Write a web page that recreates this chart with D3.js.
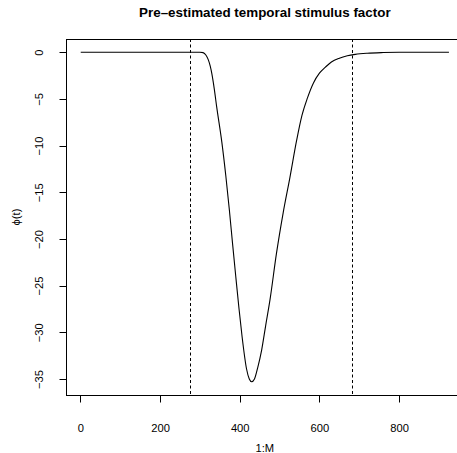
<!DOCTYPE html>
<html>
<head>
<meta charset="utf-8">
<script src="https://cdn.jsdelivr.net/npm/d3@7"></script>
<style>
  body { margin: 0; background: #fff; }
  text { font-family: "Liberation Sans", Arial, sans-serif; fill: #000; }
</style>
</head>
<body>
<svg id="chart" width="457" height="453"></svg>
<script>
// values
const tIndex = [1, 250, 300, 308, 315, 321, 326, 330, 336, 342, 355, 365, 374, 382, 390, 398, 406, 417, 424, 430,
  437, 445, 455, 465, 476, 492, 509, 526, 543, 556, 570, 585, 600, 615, 630, 650, 670, 690, 720, 760, 800, 925];
const phiValues = [0, 0, 0, -0.05, -0.3, -0.8, -1.5, -2.3, -3.9, -5.8, -9.6, -13.2, -16.9, -20.5, -24.0, -27.4, -30.5, -33.9, -35.0, -35.3,
  -35.0, -33.8, -31.9, -29.3, -26.5, -21.6, -17.2, -13.4, -9.4, -6.8, -4.9, -3.3, -2.25, -1.6, -1.05, -0.64, -0.38, -0.23, -0.11, -0.04, -0.01, 0];
const cutLines = [276, 682];
const xTicks = [0, 200, 400, 600, 800];
const yTicks = [0, -5, -10, -15, -20, -25, -30, -35];

const svg = d3.select("#chart");
const plotLeft = 66, plotTop = 39, plotBottom = 395;

// R style 4% padding on both axes
const xMin = d3.min(tIndex), xMax = d3.max(tIndex);
const xPad = (xMax - xMin) * 0.04;
const yMin = d3.min(phiValues), yMax = d3.max(phiValues);
const yPad = (yMax - yMin) * 0.04;
const pxPerUnit = 0.3985;
const plotRight = plotLeft + (xMax - xMin + 2 * xPad) * pxPerUnit;

const xScale = d3.scaleLinear().domain([xMin - xPad, xMax + xPad]).range([plotLeft, plotRight]);
const yScale = d3.scaleLinear().domain([yMin - yPad, yMax + yPad]).range([plotBottom, plotTop]);

const fmt = d => (d < 0 ? "\u2212" + Math.abs(d) : String(d));

// box
svg.append("rect")
  .attr("x", plotLeft + 0.5).attr("y", plotTop + 0.5)
  .attr("width", plotRight - plotLeft).attr("height", plotBottom - plotTop)
  .attr("fill", "none").attr("stroke", "#000").attr("stroke-width", 1);

// x axis
const xAxis = svg.append("g").attr("transform", `translate(0.5,${plotBottom + 0.5})`);
xAxis.append("line")
  .attr("x1", xScale(xTicks[0])).attr("x2", xScale(xTicks[xTicks.length - 1]))
  .attr("stroke", "#000");
xAxis.selectAll(".tick").data(xTicks).enter().append("line")
  .attr("x1", d => Math.round(xScale(d))).attr("x2", d => Math.round(xScale(d)))
  .attr("y1", 0).attr("y2", 7).attr("stroke", "#000");
xAxis.selectAll(".lab").data(xTicks).enter().append("text")
  .attr("x", d => xScale(d)).attr("y", 36)
  .attr("text-anchor", "middle").attr("font-size", "11.2px")
  .text(fmt);

// y axis
const yAxis = svg.append("g").attr("transform", `translate(${plotLeft + 0.5},0.5)`);
yAxis.append("line")
  .attr("y1", yScale(yTicks[0])).attr("y2", yScale(yTicks[yTicks.length - 1]))
  .attr("stroke", "#000");
yAxis.selectAll(".tick").data(yTicks).enter().append("line")
  .attr("y1", d => Math.round(yScale(d))).attr("y2", d => Math.round(yScale(d)))
  .attr("x1", 0).attr("x2", -7).attr("stroke", "#000");
yAxis.selectAll(".lab").data(yTicks).enter().append("text")
  .attr("transform", d => `translate(-24,${yScale(d)}) rotate(-90)`)
  .attr("text-anchor", "middle").attr("font-size", "11.2px")
  .text(fmt);

// dashed vertical lines
svg.selectAll(".cut").data(cutLines).enter().append("line")
  .attr("x1", d => Math.round(xScale(d)) + 0.5).attr("x2", d => Math.round(xScale(d)) + 0.5)
  .attr("y1", plotTop).attr("y2", plotBottom)
  .attr("stroke", "#000").attr("stroke-width", 1)
  .attr("stroke-dasharray", "3,2.5");

// curve
const pts = tIndex.map((t, i) => [t, phiValues[i]]);
const line = d3.line()
  .x(d => xScale(d[0])).y(d => yScale(d[1]))
  .curve(d3.curveMonotoneX);
svg.append("path").datum(pts)
  .attr("d", line)
  .attr("fill", "none").attr("stroke", "#000").attr("stroke-width", 1.1);

// titles
svg.append("text")
  .attr("x", (plotLeft + plotRight) / 2).attr("y", 17)
  .attr("text-anchor", "middle").attr("font-size", "13.4px").attr("font-weight", "bold")
  .text("Pre\u2013estimated temporal stimulus factor");
svg.append("text")
  .attr("x", (plotLeft + plotRight) / 2).attr("y", 452)
  .attr("text-anchor", "middle").attr("font-size", "11.2px")
  .text("1:M");
svg.append("text")
  .attr("transform", `translate(20,${(plotTop + plotBottom) / 2}) rotate(-90)`)
  .attr("text-anchor", "middle").attr("font-size", "11.2px")
  .text("\u03d5(t)");
</script>
</body>
</html>
